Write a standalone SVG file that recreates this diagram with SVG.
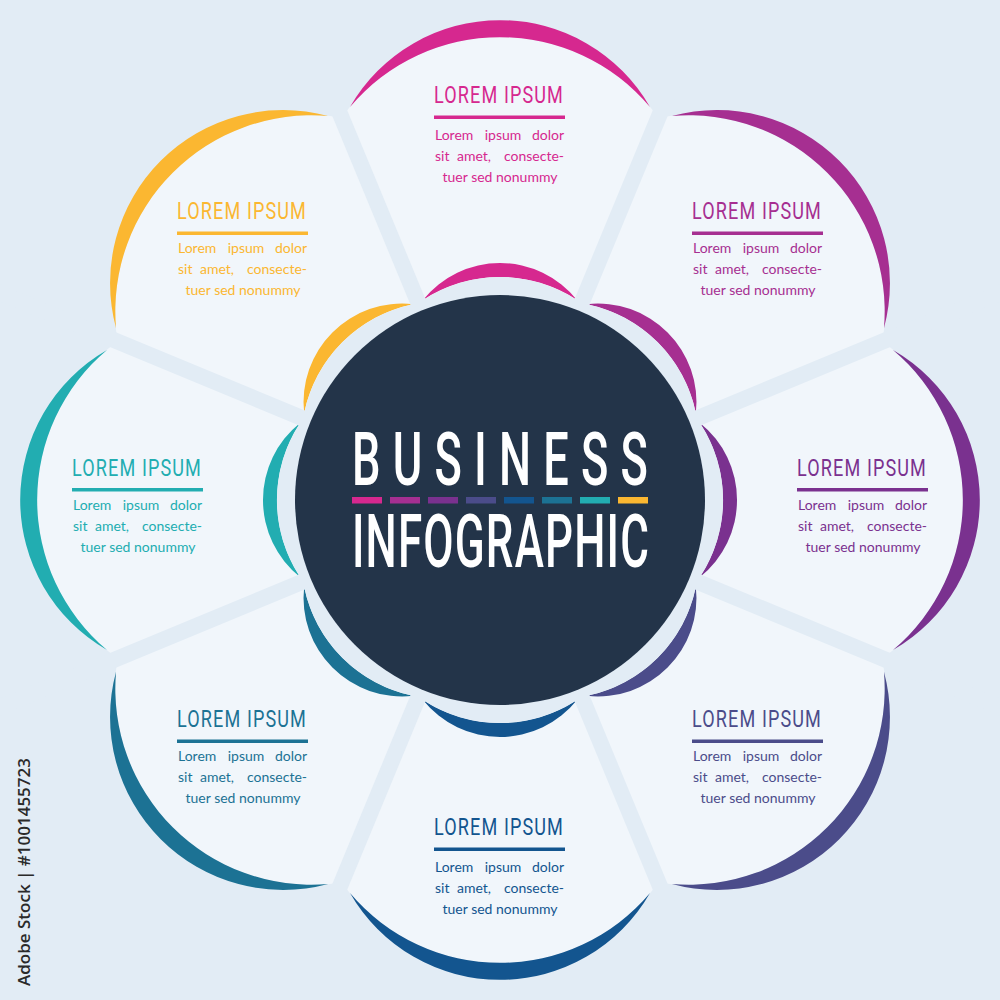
<svg xmlns="http://www.w3.org/2000/svg" width="1000" height="1000" viewBox="0 0 1000 1000">
<style>
.bg{fill:#e2ecf5}
.petal{fill:#f1f6fb}
.ring{fill:#e2ecf5}
.gap{stroke:#e2ecf5;stroke-width:16;fill:none}
.head{font-family:Roboto,"Liberation Sans",sans-serif;font-size:24px;font-weight:400;letter-spacing:1.5px}
.body{font-family:Lato,"Open Sans",sans-serif;font-size:14px}
.m{text-anchor:middle}
.e{text-anchor:end}
.title{font-family:Roboto,"Liberation Sans",sans-serif;font-size:74px;font-weight:500;fill:#ffffff}
</style>
<defs>
<path id="petalP" d="M500,500 L341.6,117.5 A196,196 0 0 1 658.4,117.5 Z"/>
<path id="outerC" d="M350,107 A173,173 0 0 1 650,107 A196,196 0 0 0 350,107 Z"/>
<path id="innerC" d="M423,300 A98.6,98.6 0 0 1 577,300 A140,140 0 0 0 423,300 Z"/>
</defs>
<rect class="bg" x="0" y="0" width="1000" height="1000"/>

<g id="petal-top" fill="#d6288f">
<use href="#petalP" class="petal"/>
<use href="#outerC"/>
<use href="#innerC"/>
<text class="head" x="434" y="103" textLength="130" lengthAdjust="spacingAndGlyphs">LOREM IPSUM</text>
<rect x="434" y="115.5" width="131" height="3.5"/>
<text class="body" x="435" y="140">Lorem</text><text class="body m" x="503" y="140">ipsum</text><text class="body e" x="564" y="140">dolor</text>
<text class="body" x="435" y="161">sit</text><text class="body m" x="474" y="161">amet,</text><text class="body e" x="564" y="161">consecte-</text>
<text class="body m" x="500" y="182">tuer sed nonummy</text>
</g>

<g id="petal-top-right" fill="#a62f91">
<g transform="rotate(45 500 500)">
<use href="#petalP" class="petal"/>
<use href="#outerC"/>
<use href="#innerC"/>
</g>
<text class="head" x="692" y="219" textLength="130" lengthAdjust="spacingAndGlyphs">LOREM IPSUM</text>
<rect x="692" y="231.5" width="131" height="3.5"/>
<text class="body" x="693" y="253">Lorem</text><text class="body m" x="761" y="253">ipsum</text><text class="body e" x="822" y="253">dolor</text>
<text class="body" x="693" y="274">sit</text><text class="body m" x="732" y="274">amet,</text><text class="body e" x="822" y="274">consecte-</text>
<text class="body m" x="758" y="295">tuer sed nonummy</text>
</g>

<g id="petal-right" fill="#7a318f">
<g transform="rotate(90 500 500)">
<use href="#petalP" class="petal"/>
<use href="#outerC"/>
<use href="#innerC"/>
</g>
<text class="head" x="797" y="476" textLength="130" lengthAdjust="spacingAndGlyphs">LOREM IPSUM</text>
<rect x="797" y="488" width="131" height="3.5"/>
<text class="body" x="798" y="510">Lorem</text><text class="body m" x="866" y="510">ipsum</text><text class="body e" x="927" y="510">dolor</text>
<text class="body" x="798" y="531">sit</text><text class="body m" x="837" y="531">amet,</text><text class="body e" x="927" y="531">consecte-</text>
<text class="body m" x="863" y="552">tuer sed nonummy</text>
</g>

<g id="petal-bottom-right" fill="#4b4c8a">
<g transform="rotate(135 500 500)">
<use href="#petalP" class="petal"/>
<use href="#outerC"/>
<use href="#innerC"/>
</g>
<text class="head" x="692" y="727" textLength="130" lengthAdjust="spacingAndGlyphs">LOREM IPSUM</text>
<rect x="692" y="739.5" width="131" height="3.5"/>
<text class="body" x="693" y="761">Lorem</text><text class="body m" x="761" y="761">ipsum</text><text class="body e" x="822" y="761">dolor</text>
<text class="body" x="693" y="782">sit</text><text class="body m" x="732" y="782">amet,</text><text class="body e" x="822" y="782">consecte-</text>
<text class="body m" x="758" y="803">tuer sed nonummy</text>
</g>

<g id="petal-bottom" fill="#13558f">
<g transform="rotate(180 500 500)">
<use href="#petalP" class="petal"/>
<use href="#outerC"/>
<use href="#innerC"/>
</g>
<text class="head" x="434" y="835" textLength="130" lengthAdjust="spacingAndGlyphs">LOREM IPSUM</text>
<rect x="434" y="847.5" width="131" height="3.5"/>
<text class="body" x="435" y="872">Lorem</text><text class="body m" x="503" y="872">ipsum</text><text class="body e" x="564" y="872">dolor</text>
<text class="body" x="435" y="893">sit</text><text class="body m" x="474" y="893">amet,</text><text class="body e" x="564" y="893">consecte-</text>
<text class="body m" x="500" y="914">tuer sed nonummy</text>
</g>

<g id="petal-bottom-left" fill="#1c7294">
<g transform="rotate(225 500 500)">
<use href="#petalP" class="petal"/>
<use href="#outerC"/>
<use href="#innerC"/>
</g>
<text class="head" x="177" y="727" textLength="130" lengthAdjust="spacingAndGlyphs">LOREM IPSUM</text>
<rect x="177" y="739.5" width="131" height="3.5"/>
<text class="body" x="178" y="761">Lorem</text><text class="body m" x="246" y="761">ipsum</text><text class="body e" x="307" y="761">dolor</text>
<text class="body" x="178" y="782">sit</text><text class="body m" x="217" y="782">amet,</text><text class="body e" x="307" y="782">consecte-</text>
<text class="body m" x="243" y="803">tuer sed nonummy</text>
</g>

<g id="petal-left" fill="#22adb1">
<g transform="rotate(270 500 500)">
<use href="#petalP" class="petal"/>
<use href="#outerC"/>
<use href="#innerC"/>
</g>
<text class="head" x="72" y="476" textLength="130" lengthAdjust="spacingAndGlyphs">LOREM IPSUM</text>
<rect x="72" y="488" width="131" height="3.5"/>
<text class="body" x="73" y="510">Lorem</text><text class="body m" x="141" y="510">ipsum</text><text class="body e" x="202" y="510">dolor</text>
<text class="body" x="73" y="531">sit</text><text class="body m" x="112" y="531">amet,</text><text class="body e" x="202" y="531">consecte-</text>
<text class="body m" x="138" y="552">tuer sed nonummy</text>
</g>

<g id="petal-top-left" fill="#fbb731">
<g transform="rotate(315 500 500)">
<use href="#petalP" class="petal"/>
<use href="#outerC"/>
<use href="#innerC"/>
</g>
<text class="head" x="177" y="219" textLength="130" lengthAdjust="spacingAndGlyphs">LOREM IPSUM</text>
<rect x="177" y="231.5" width="131" height="3.5"/>
<text class="body" x="178" y="253">Lorem</text><text class="body m" x="246" y="253">ipsum</text><text class="body e" x="307" y="253">dolor</text>
<text class="body" x="178" y="274">sit</text><text class="body m" x="217" y="274">amet,</text><text class="body e" x="307" y="274">consecte-</text>
<text class="body m" x="243" y="295">tuer sed nonummy</text>
</g>

<g id="inner-ring">
<circle class="ring" cx="500" cy="417" r="140"/>
<circle class="ring" cx="500" cy="417" r="140" transform="rotate(45 500 500)"/>
<circle class="ring" cx="500" cy="417" r="140" transform="rotate(90 500 500)"/>
<circle class="ring" cx="500" cy="417" r="140" transform="rotate(135 500 500)"/>
<circle class="ring" cx="500" cy="417" r="140" transform="rotate(180 500 500)"/>
<circle class="ring" cx="500" cy="417" r="140" transform="rotate(225 500 500)"/>
<circle class="ring" cx="500" cy="417" r="140" transform="rotate(270 500 500)"/>
<circle class="ring" cx="500" cy="417" r="140" transform="rotate(315 500 500)"/>
</g>

<g id="separators">
<line class="gap" x1="500" y1="500" x2="500" y2="-120" transform="rotate(22.5 500 500)"/>
<line class="gap" x1="500" y1="500" x2="500" y2="-120" transform="rotate(67.5 500 500)"/>
<line class="gap" x1="500" y1="500" x2="500" y2="-120" transform="rotate(112.5 500 500)"/>
<line class="gap" x1="500" y1="500" x2="500" y2="-120" transform="rotate(157.5 500 500)"/>
<line class="gap" x1="500" y1="500" x2="500" y2="-120" transform="rotate(202.5 500 500)"/>
<line class="gap" x1="500" y1="500" x2="500" y2="-120" transform="rotate(247.5 500 500)"/>
<line class="gap" x1="500" y1="500" x2="500" y2="-120" transform="rotate(292.5 500 500)"/>
<line class="gap" x1="500" y1="500" x2="500" y2="-120" transform="rotate(337.5 500 500)"/>
</g>

<g id="center">
<circle cx="500" cy="500" r="205" fill="#233449"/>
<text class="title" x="352" y="485" textLength="308" lengthAdjust="spacingAndGlyphs" letter-spacing="20">BUSINESS</text>
<rect x="352" y="497" width="30" height="6.5" fill="#d6288f"/>
<rect x="390" y="497" width="30" height="6.5" fill="#a62f91"/>
<rect x="428" y="497" width="30" height="6.5" fill="#7a318f"/>
<rect x="466" y="497" width="30" height="6.5" fill="#4b4c8a"/>
<rect x="504" y="497" width="30" height="6.5" fill="#13558f"/>
<rect x="542" y="497" width="30" height="6.5" fill="#1c7294"/>
<rect x="580" y="497" width="30" height="6.5" fill="#22adb1"/>
<rect x="618" y="497" width="30" height="6.5" fill="#fbb731"/>
<text class="title" x="352" y="567" textLength="298" lengthAdjust="spacingAndGlyphs" letter-spacing="2">INFOGRAPHIC</text>
</g>

<text transform="translate(30,986) rotate(-90)" font-family="'Open Sans','Liberation Sans',sans-serif" font-weight="600" font-size="17" fill="#2a2a2a" textLength="228" lengthAdjust="spacingAndGlyphs">Adobe Stock | #1001455723</text>
</svg>
